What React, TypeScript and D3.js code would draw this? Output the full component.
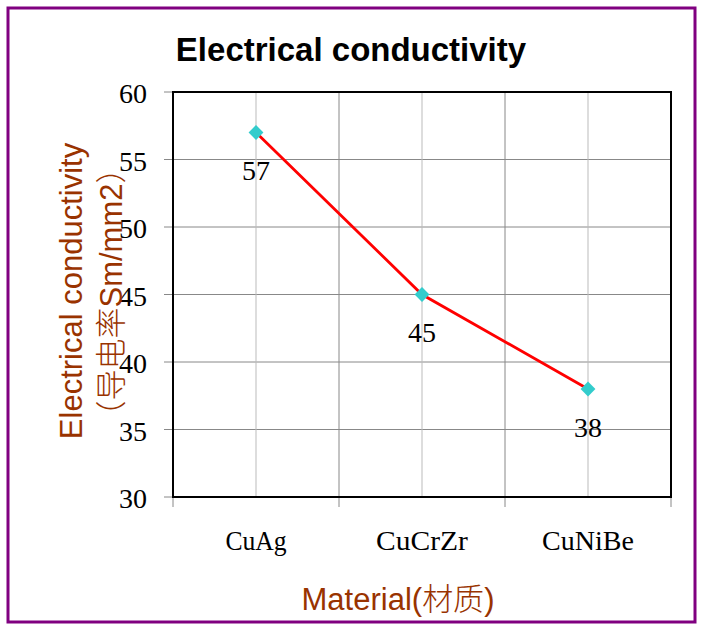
import React from "react";
import * as d3 from "d3";

const categories = ["CuAg", "CuCrZr", "CuNiBe"];
const values = [57, 45, 38];
const yTicks = [30, 35, 40, 45, 50, 55, 60];
const title = "Electrical conductivity";
const yTitle1 = "Electrical conductivity";
const xTitle1 = "Material(";
const xTitle2 = "材质";

export default function App() {
  const W = 704, H = 629;
  const left = 173, right = 671, top = 92, bottom = 497;
  const x = d3.scaleBand<string>().domain(categories).range([left, right]).padding(0);
  const y = d3.scaleLinear().domain([30, 60]).range([bottom, top]);
  const bw = x.bandwidth();
  const cx = (c: string) => (x(c) as number) + bw / 2;
  const line = d3.line<number>().x((_, i) => cx(categories[i])).y((v) => y(v));
  const boundaries = [...categories.map((c) => x(c) as number), right];
  const brown = "#993300";
  const serif = "'Liberation Serif', 'DejaVu Serif', serif";
  const sans = "'Liberation Sans', Arial, sans-serif";
  const cjk = "'Noto Sans CJK SC', sans-serif";
  const diamond = d3.symbol().type(d3.symbolDiamond2).size(140)();

  return (
    <div style={{ position: "absolute", left: 0, top: 0 }}>
      <svg width={W} height={H} style={{ display: "block" }}>
        <rect x={0} y={0} width={W} height={H} fill="#fff" />
        <rect x={8} y={8} width={687} height={614} fill="none" stroke="#800080" strokeWidth={3} />
        <text x={351} y={61} textAnchor="middle" fontFamily={sans} fontWeight="bold" fontSize={33} fill="#000">
          {title}
        </text>
        {yTicks.map((t) => (
          <line key={"h" + t} x1={left} x2={right} y1={y(t)} y2={y(t)} stroke="#888" strokeWidth={1} />
        ))}
        {categories.map((c) => (
          <line key={"vc" + c} x1={cx(c)} x2={cx(c)} y1={top} y2={bottom} stroke="#bbb" strokeWidth={1} />
        ))}
        {boundaries.map((b, i) => (
          <line key={"vb" + i} x1={b} x2={b} y1={top} y2={bottom} stroke="#888" strokeWidth={1} />
        ))}
        {yTicks.map((t) => (
          <line key={"yt" + t} x1={164} x2={left} y1={y(t)} y2={y(t)} stroke="#888" strokeWidth={1} />
        ))}
        {boundaries.map((b, i) => (
          <line key={"xt" + i} x1={b} x2={b} y1={bottom} y2={bottom + 10} stroke="#888" strokeWidth={1} />
        ))}
        <rect x={left} y={top} width={right - left} height={bottom - top} fill="none" stroke="#000" strokeWidth={2} />
        {yTicks.map((t) => (
          <text key={"yl" + t} x={147} y={y(t) + 11} textAnchor="end" fontFamily={serif} fontSize={28} fill="#000">
            {t}
          </text>
        ))}
        {categories.map((c) => (
          <text key={"xl" + c} x={cx(c)} y={550} textAnchor="middle" fontFamily={serif} fontSize={28}
            textLength={c.length * 15.3} lengthAdjust="spacingAndGlyphs" fill="#000">
            {c}
          </text>
        ))}
        <path d={line(values) as string} fill="none" stroke="#ff0000" strokeWidth={2.8} />
        {values.map((v, i) => (
          <path key={"m" + i} d={diamond as string} transform={`translate(${cx(categories[i])},${y(v)})`} fill="#33CCCC" />
        ))}
        {values.map((v, i) => (
          <text key={"dl" + i} x={cx(categories[i])} y={y(v) + 47.5} textAnchor="middle" fontFamily={serif} fontSize={28} fill="#000">
            {v}
          </text>
        ))}
        <text transform="translate(82,291) rotate(-90)" textAnchor="middle" fontFamily={sans} fontSize={31} fill={brown}>
          {yTitle1}
        </text>
        <text transform="translate(122,292) rotate(-90)" textAnchor="middle" fontFamily={sans} fontSize={31} fill={brown}>
          <tspan fontFamily={cjk} fontWeight={300}>（导电率</tspan>
          <tspan>Sm/mm2</tspan>
          <tspan fontFamily={cjk} fontWeight={300}>）</tspan>
        </text>
        <text x={398} y={610} textAnchor="middle" fontFamily={sans} fontSize={31} fill={brown}>
          <tspan>{xTitle1}</tspan>
          <tspan fontFamily={cjk} fontWeight={300}>{xTitle2}</tspan>
          <tspan>)</tspan>
        </text>
      </svg>
    </div>
  );
}
